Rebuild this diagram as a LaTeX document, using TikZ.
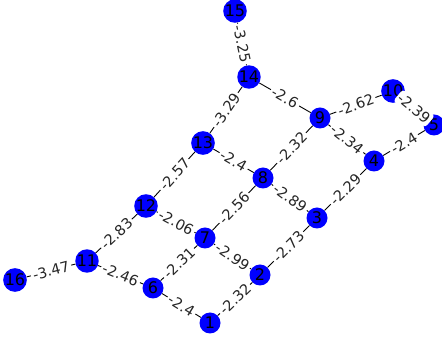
\documentclass[tikz,border=0pt]{standalone}
\usepackage{fontspec}
\setmainfont{DejaVu Sans}
\begin{document}
\begin{tikzpicture}[x=1pt,y=1pt,
  vertex/.style={circle,fill=blue,draw=none,minimum size=21pt,inner sep=0pt,font=\fontsize{16}{16}\selectfont\color{black}},
  wlabel/.style={sloped,fill=white,inner sep=2pt,rounded corners=3pt,font=\fontsize{14.5}{14.5}\selectfont\color{black!85}},
  edge/.style={draw=black,line width=0.9pt}]
\useasboundingbox (0,0) rectangle (442,345);
\node[vertex] (15) at (235,334) {15};
\node[vertex] (14) at (249,268) {14};
\node[vertex] (10) at (393,254) {10};
\node[vertex] (5) at (434,220) {5};
\node[vertex] (9) at (320,227) {9};
\node[vertex] (13) at (203,202) {13};
\node[vertex] (4) at (374,184) {4};
\node[vertex] (8) at (263,167) {8};
\node[vertex] (12) at (146,139) {12};
\node[vertex] (3) at (317,127) {3};
\node[vertex] (7) at (205,107) {7};
\node[vertex] (2) at (260,70) {2};
\node[vertex] (11) at (87,84) {11};
\node[vertex] (16) at (15,65) {16};
\node[vertex] (6) at (153,57) {6};
\node[vertex] (1) at (210,22) {1};
\path[edge] (15) -- node[wlabel] {-3.25} (14);
\path[edge] (14) -- node[wlabel] {-2.6} (9);
\path[edge] (14) -- node[wlabel] {-3.29} (13);
\path[edge] (9) -- node[wlabel] {-2.62} (10);
\path[edge] (10) -- node[wlabel] {-2.39} (5);
\path[edge] (9) -- node[wlabel] {-2.34} (4);
\path[edge] (9) -- node[wlabel] {-2.32} (8);
\path[edge] (5) -- node[wlabel] {-2.4} (4);
\path[edge] (13) -- node[wlabel] {-2.4} (8);
\path[edge] (13) -- node[wlabel] {-2.57} (12);
\path[edge] (8) -- node[wlabel] {-2.56} (7);
\path[edge] (8) -- node[wlabel] {-2.89} (3);
\path[edge] (4) -- node[wlabel] {-2.29} (3);
\path[edge] (12) -- node[wlabel] {-2.06} (7);
\path[edge] (12) -- node[wlabel] {-2.83} (11);
\path[edge] (7) -- node[wlabel] {-2.31} (6);
\path[edge] (7) -- node[wlabel] {-2.99} (2);
\path[edge] (3) -- node[wlabel] {-2.73} (2);
\path[edge] (2) -- node[wlabel] {-2.32} (1);
\path[edge] (11) -- node[wlabel] {-2.46} (6);
\path[edge] (6) -- node[wlabel] {-2.4} (1);
\path[edge] (16) -- node[wlabel] {-3.47} (11);
\end{tikzpicture}
\end{document}
